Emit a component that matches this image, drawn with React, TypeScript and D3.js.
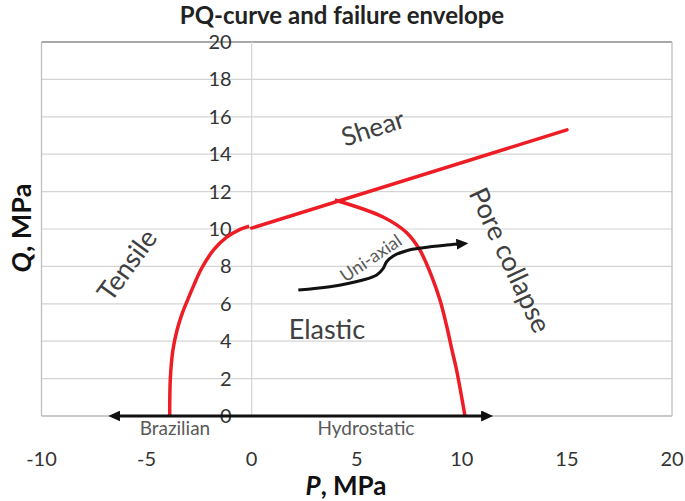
import React from 'react';
import * as d3 from 'd3';

const W = 685;
const H = 501;

const xTicks = [-10, -5, 0, 5, 10, 15, 20];
const yTicks = [0, 2, 4, 6, 8, 10, 12, 14, 16, 18, 20];

const tensileP = [-3.9, -3.87, -3.75, -3.55, -3.3, -3.05, -2.75, -2.38, -1.8, -1.2, -0.55, -0.12];
const tensileQ = [0, 2, 3.5, 4.6, 5.5, 6.2, 7.0, 7.9, 8.9, 9.55, 9.98, 10.15];

const shearP = [0, 15];
const shearQ = [10.05, 15.3];

const capP = [3.96, 6.25, 7.39, 8.0, 8.58, 8.96, 9.29, 9.53, 9.75, 10.15];
const capQ = [11.55, 10.64, 9.79, 8.88, 7.43, 6.2, 4.76, 3.53, 2.46, 0];

const uniP = [2.22, 3.72, 5.29, 5.95, 6.26, 6.42, 6.74, 7.37, 8.16, 9.28, 10.12];
const uniQ = [6.74, 6.91, 7.27, 7.54, 7.9, 8.25, 8.56, 8.84, 9.0, 9.14, 9.22];

const hydroP = [-6.63, 11.3];
const hydroQ = [0, 0];

const labelText = ['Shear', 'Tensile', 'Pore collapse', 'Elastic', 'Uni-axial', 'Brazilian', 'Hydrostatic'];
const labelP = [5.77, -5.93, 12.29, 3.58, 5.67, -3.65, 5.44];
const labelQ = [15.4, 8.07, 8.34, 4.6, 8.45, -0.64, -0.64];
const labelRot = [-18, -54, 65, 0, -34, 0, 0];
const labelSize = [26, 27, 27, 27, 18, 19, 19];
const labelColor = ['#404040', '#404040', '#404040', '#404040', '#595959', '#595959', '#595959'];

const FONT = 'Lato, "Open Sans", sans-serif';

export default function App() {
  const x = d3.scaleLinear().domain([-10, 20]).range([41.5, 672]);
  const y = d3.scaleLinear().domain([0, 20]).range([416, 42]);

  const mk = (ps: number[], qs: number[]) => ps.map((p, i) => [p, qs[i]] as [number, number]);
  const smooth = d3.line<[number, number]>().x(d => x(d[0])).y(d => y(d[1])).curve(d3.curveCatmullRom.alpha(0.5));
  const straight = d3.line<[number, number]>().x(d => x(d[0])).y(d => y(d[1]));

  const red = '#ee1c24';

  return (
    <svg width={W} height={H} style={{ position: 'absolute', left: 0, top: 0, background: '#fff' }} fontFamily={FONT}>
      <defs>
        <marker id="ah" viewBox="0 0 12 11" markerWidth={12} markerHeight={11} refX={8} refY={5.5}
          markerUnits="userSpaceOnUse" orient="auto-start-reverse">
          <path d="M0,0 L12,5.5 L0,11 z" fill="#111" />
        </marker>
      </defs>
      <rect x={0} y={0} width={W} height={H} fill="#fff" />
      {/* grid */}
      {yTicks.map(t => (
        <line key={'g' + t} x1={x(-10)} x2={x(20)} y1={y(t)} y2={y(t)}
          stroke={t === 20 ? '#8c8c8c' : '#d4d4d4'} strokeWidth={t === 20 ? 1.5 : 1.2} />
      ))}
      <line x1={x(0)} x2={x(0)} y1={y(20)} y2={y(0)} stroke="#d4d4d4" strokeWidth={1.2} />
      <line x1={x(-10)} x2={x(-10)} y1={y(20)} y2={y(0)} stroke="#bfbfbf" strokeWidth={1.3} />
      <line x1={x(20)} x2={x(20)} y1={y(20)} y2={y(0)} stroke="#bfbfbf" strokeWidth={1.3} />
      <line x1={x(-10)} x2={x(20)} y1={y(0)} y2={y(0)} stroke="#bfbfbf" strokeWidth={1.3} />

      {/* title */}
      <text x={342} y={24} textAnchor="middle" fontSize={24} fontWeight="bold" fill="#222">PQ-curve and failure envelope</text>

      {/* x tick labels */}
      {xTicks.map(t => (
        <text key={'xt' + t} x={x(t)} y={465.5} textAnchor="middle" fontSize={20} fill="#333">{t}</text>
      ))}
      {/* y tick labels */}
      {yTicks.map(t => (
        <text key={'yt' + t} x={x(0) - 20} y={y(t)} dy="0.35em" textAnchor="end" fontSize={20} fill="#333">{t}</text>
      ))}

      {/* axis titles */}
      <text x={346} y={495} textAnchor="middle" fontSize={26} fontWeight="bold" fill="#111">
        <tspan fontStyle="italic">P</tspan>, MPa
      </text>
      <text transform="translate(31,228) rotate(-90)" textAnchor="middle" fontSize={27} fontWeight="bold" fill="#111">
        <tspan fontStyle="italic">Q</tspan>, MPa
      </text>

      {/* envelope */}
      <path d={smooth(mk(tensileP, tensileQ)) || ''} fill="none" stroke={red} strokeWidth={3.5} strokeLinejoin="round" />
      <path d={straight(mk(shearP, shearQ)) || ''} fill="none" stroke={red} strokeWidth={3.5} strokeLinecap="round" />
      <path d={smooth(mk(capP, capQ)) || ''} fill="none" stroke={red} strokeWidth={3.5} strokeLinejoin="round" />

      {/* arrows */}
      <path d={straight(mk(hydroP, hydroQ)) || ''} fill="none" stroke="#111" strokeWidth={3.2}
        markerStart="url(#ah)" markerEnd="url(#ah)" />
      <path d={smooth(mk(uniP, uniQ)) || ''} fill="none" stroke="#111" strokeWidth={3}
        markerEnd="url(#ah)" />

      {/* labels */}
      {labelText.map((s, i) => (
        <text key={s} transform={`translate(${x(labelP[i])},${y(labelQ[i])}) rotate(${labelRot[i]})`}
          textAnchor="middle" dy="0.35em" fontSize={labelSize[i]} fill={labelColor[i]}>{s}</text>
      ))}
    </svg>
  );
}
